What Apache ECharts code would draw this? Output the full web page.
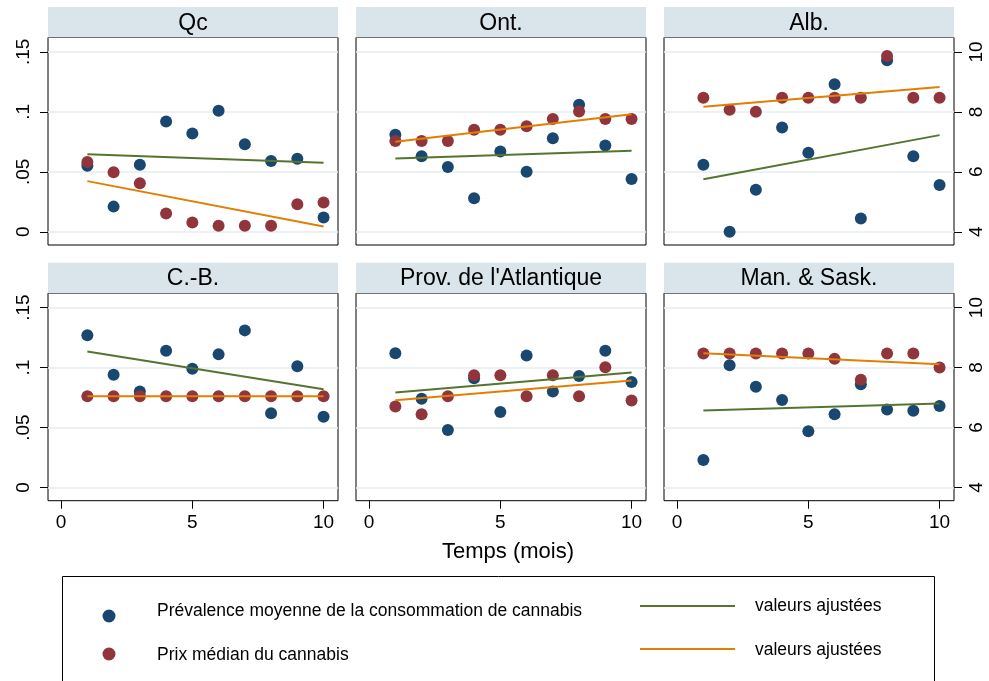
<!DOCTYPE html>
<html>
<head>
<meta charset="utf-8">
<script src="https://cdn.jsdelivr.net/npm/echarts@6/dist/echarts.min.js"></script>
<style>
  html, body { margin: 0; padding: 0; background: #fff; }
  #chart { width: 989px; height: 681px; }
</style>
</head>
<body>
<div id="chart"></div>
<script>
// Months since the start of the period (x axis)
const months = [1, 2, 3, 4, 5, 6, 7, 8, 9, 10];
const regions = ['Qc', 'Ont.', 'Alb.', 'C.-B.', "Prov. de l'Atlantique", 'Man. & Sask.'];

// Tick values
const xTicks = [0, 5, 10];
const prevTicks = [0, 0.05, 0.1, 0.15];
const priceTicks = [4, 6, 8, 10];

// Mean prevalence of cannabis use (left axis), by month
const prevQc   = [0.055, 0.021, 0.056, 0.092, 0.082, 0.101, 0.073, 0.059, 0.061, 0.012];
const prevOnt  = [0.081, 0.063, 0.054, 0.028, 0.067, 0.050, 0.078, 0.106, 0.072, 0.044];
const prevAlb  = [0.056, 0.000, 0.035, 0.087, 0.066, 0.123, 0.011, 0.143, 0.063, 0.039];
const prevCB   = [0.127, 0.094, 0.080, 0.114, 0.099, 0.111, 0.131, 0.062, 0.101, 0.059];
const prevAtl  = [0.112, 0.074, 0.048, 0.091, 0.063, 0.110, 0.080, 0.093, 0.114, 0.088];
const prevMS   = [0.023, 0.102, 0.084, 0.073, 0.047, 0.061, 0.086, 0.065, 0.064, 0.068];

// Median cannabis price (right axis), by month
const priceQc  = [6.33, 5.99, 5.62, 4.61, 4.31, 4.20, 4.20, 4.20, 4.92, 4.98];
const priceOnt = [7.03, 7.03, 7.03, 7.40, 7.40, 7.52, 7.76, 8.01, 7.76, 7.76];
const priceAlb = [8.47, 8.07, 8.00, 8.47, 8.47, 8.47, 8.47, 9.86, 8.47, 8.47];
const priceCB  = [7.04, 7.04, 7.04, 7.04, 7.04, 7.04, 7.04, 7.04, 7.04, 7.04];
const priceAtl = [6.70, 6.44, 7.04, 7.74, 7.74, 7.04, 7.74, 7.04, 8.01, 6.90];
const priceMS  = [8.47, 8.47, 8.47, 8.47, 8.47, 8.29, 7.59, 8.47, 8.47, 8.00];

// Fitted values at month 1 and month 10
const fitPrevQc  = [0.0647, 0.0575];
const fitPrevOnt = [0.0611, 0.0675];
const fitPrevAlb = [0.0439, 0.0806];
const fitPrevCB  = [0.1133, 0.0819];
const fitPrevAtl = [0.0792, 0.0958];
const fitPrevMS  = [0.0642, 0.0700];

const fitPriceQc  = [5.69, 4.18];
const fitPriceOnt = [7.00, 7.92];
const fitPriceAlb = [8.17, 8.83];
const fitPriceCB  = [7.04, 7.04];
const fitPriceAtl = [6.91, 7.57];
const fitPriceMS  = [8.48, 8.11];

const panels = [
  { prev: prevQc,  price: priceQc,  fitPrev: fitPrevQc,  fitPrice: fitPriceQc },
  { prev: prevOnt, price: priceOnt, fitPrev: fitPrevOnt, fitPrice: fitPriceOnt },
  { prev: prevAlb, price: priceAlb, fitPrev: fitPrevAlb, fitPrice: fitPriceAlb },
  { prev: prevCB,  price: priceCB,  fitPrev: fitPrevCB,  fitPrice: fitPriceCB },
  { prev: prevAtl, price: priceAtl, fitPrev: fitPrevAtl, fitPrice: fitPriceAtl },
  { prev: prevMS,  price: priceMS,  fitPrev: fitPrevMS,  fitPrice: fitPriceMS }
];

const FONT = "'Liberation Sans', Arial, Helvetica, sans-serif";
const BLUE = '#1a476f', RED = '#90353b', GREEN = '#55752f', ORANGE = '#e37e00';
const HEAD_BG = '#d9e5ea', GRID_LINE = '#e6eef0';

const colLeft = [48, 356, 664];
const rowTop = [7, 262.7];
const headH = 30.5, plotW = 290, plotH = 207.5;

const grids = [], xAxes = [], yAxes = [], series = [], graphics = [];

const fmtPrev = v => (v === 0 ? '0' : String(+v.toFixed(2)).replace(/^0/, ''));

panels.forEach((p, i) => {
  const col = i % 3, row = Math.floor(i / 3);
  const left = colLeft[col], top = rowTop[row] + headH;

  grids.push({
    left: left, top: top, width: plotW, height: plotH,
    show: true, borderColor: '#000', borderWidth: 1, backgroundColor: '#fff'
  });

  xAxes.push({
    type: 'value', gridIndex: i, min: -0.5, max: 10.55,
    axisLine: { show: false, onZero: false },
    splitLine: { show: false },
    axisTick: { show: row === 1, customValues: xTicks, length: 8, lineStyle: { color: '#000' } },
    axisLabel: { show: row === 1, customValues: xTicks, fontSize: 19, color: '#000', fontFamily: FONT, margin: 13 }
  });

  yAxes.push({
    type: 'value', gridIndex: i, position: 'left', min: -0.011, max: 0.162,
    axisLine: { show: false, onZero: false },
    axisTick: { show: col === 0, customValues: prevTicks, length: 8, lineStyle: { color: '#000' } },
    axisLabel: { show: col === 0, customValues: prevTicks, rotate: 90, fontSize: 19, color: '#000',
                 fontFamily: FONT, margin: 15, formatter: fmtPrev },
    splitLine: { show: true, lineStyle: { color: GRID_LINE, width: 1.5 } }
  });
  yAxes.push({
    type: 'value', gridIndex: i, position: 'right', min: 3.56, max: 10.48,
    axisLine: { show: false, onZero: false },
    axisTick: { show: col === 2, customValues: priceTicks, length: 8, lineStyle: { color: '#000' } },
    axisLabel: { show: col === 2, customValues: priceTicks, rotate: 90, fontSize: 19, color: '#000',
                 fontFamily: FONT, margin: 13 },
    splitLine: { show: false }
  });

  series.push({
    type: 'scatter', xAxisIndex: i, yAxisIndex: 2 * i,
    data: months.map((m, k) => [m, p.prev[k]]),
    symbolSize: 12, itemStyle: { color: BLUE, opacity: 1 }
  });
  series.push({
    type: 'line', xAxisIndex: i, yAxisIndex: 2 * i,
    data: [[months[0], p.fitPrev[0]], [months[months.length - 1], p.fitPrev[1]]],
    symbol: 'none', lineStyle: { color: GREEN, width: 2 }
  });
  series.push({
    type: 'scatter', xAxisIndex: i, yAxisIndex: 2 * i + 1,
    data: months.map((m, k) => [m, p.price[k]]),
    symbolSize: 12, itemStyle: { color: RED, opacity: 1 }
  });
  series.push({
    type: 'line', xAxisIndex: i, yAxisIndex: 2 * i + 1,
    data: [[months[0], p.fitPrice[0]], [months[months.length - 1], p.fitPrice[1]]],
    symbol: 'none', lineStyle: { color: ORANGE, width: 2 }
  });

  // Panel header band with the region name
  graphics.push({
    type: 'rect', shape: { x: left, y: rowTop[row], width: plotW, height: headH },
    style: { fill: HEAD_BG }, silent: true
  });
  graphics.push({
    type: 'text', silent: true,
    style: { text: regions[i], x: left + plotW / 2, y: rowTop[row] + headH / 2 + 1,
             align: 'center', verticalAlign: 'middle', font: '23px ' + FONT, fill: '#000' }
  });
});

// Shared x-axis title
graphics.push({
  type: 'text', silent: true,
  style: { text: 'Temps (mois)', x: 508, y: 552, align: 'center', verticalAlign: 'middle',
           font: '22px ' + FONT, fill: '#000' }
});

// Legend box
graphics.push({
  type: 'rect', silent: true,
  shape: { x: 62.5, y: 576.5, width: 872, height: 130 },
  style: { fill: '#fff', stroke: '#000', lineWidth: 1 }
});
const legendItems = [
  { kind: 'dot', color: BLUE, label: 'Prévalence moyenne de la consommation de cannabis', x: 109, y: 616, ty: 611 },
  { kind: 'dot', color: RED, label: 'Prix médian du cannabis', x: 109, y: 654, ty: 655 },
  { kind: 'line', color: GREEN, label: 'valeurs ajustées', x: 640, y: 606, ty: 606 },
  { kind: 'line', color: ORANGE, label: 'valeurs ajustées', x: 640, y: 649, ty: 650 }
];
legendItems.forEach(it => {
  if (it.kind === 'dot') {
    graphics.push({ type: 'circle', silent: true, shape: { cx: it.x, cy: it.y, r: 6.5 }, style: { fill: it.color } });
    graphics.push({ type: 'text', silent: true,
      style: { text: it.label, x: 157, y: it.ty, align: 'left', verticalAlign: 'middle',
               font: '17.5px ' + FONT, fill: '#000' } });
  } else {
    graphics.push({ type: 'line', silent: true, shape: { x1: it.x, y1: it.y, x2: it.x + 95, y2: it.y },
      style: { stroke: it.color, lineWidth: 2 } });
    graphics.push({ type: 'text', silent: true,
      style: { text: it.label, x: 755, y: it.ty, align: 'left', verticalAlign: 'middle',
               font: '17.5px ' + FONT, fill: '#000' } });
  }
});

const chart = echarts.init(document.getElementById('chart'), null, { renderer: 'canvas' });
chart.setOption({
  animation: false,
  backgroundColor: '#fff',
  grid: grids,
  xAxis: xAxes,
  yAxis: yAxes,
  series: series,
  graphic: graphics
});
</script>
</body>
</html>
